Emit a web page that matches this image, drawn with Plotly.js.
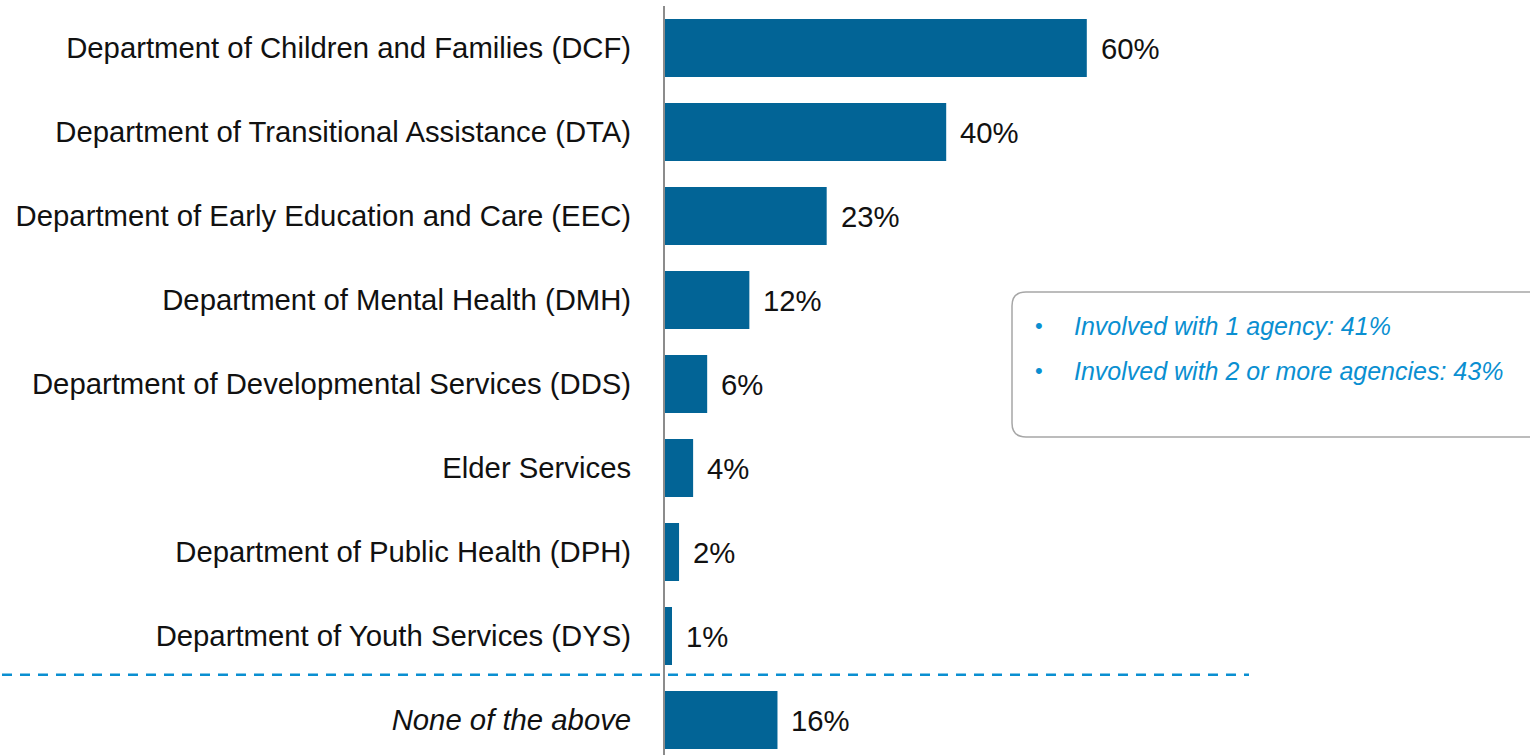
<!DOCTYPE html>
<html>
<head>
<meta charset="utf-8">
<script src="https://cdn.plot.ly/plotly-3.0.1.min.js"></script>
<style>
  html, body { margin: 0; padding: 0; background: #ffffff; }
  #chart { width: 1530px; height: 755px; }
</style>
</head>
<body>
<div id="chart"></div>
<script>
const categories = [
  "Department of Children and Families (DCF)",
  "Department of Transitional Assistance (DTA)",
  "Department of Early Education and Care (EEC)",
  "Department of Mental Health (DMH)",
  "Department of Developmental Services (DDS)",
  "Elder Services",
  "Department of Public Health (DPH)",
  "Department of Youth Services (DYS)",
  "None of the above"
];
const values = [60, 40, 23, 12, 6, 4, 2, 1, 16];
const italicCategories = ["None of the above"];
const noteLines = [
  "Involved with 1 agency: 41%",
  "Involved with 2 or more agencies: 43%"
];

const W = 1530, H = 755;
const L = 665, T = 6;
const plotW = W - L, plotH = H - T;
const pxPerPct = 7.03;
const xMax = plotW / pxPerPct;
const catStep = 84;
const yTop = -0.5;
const yBottom = yTop + plotH / catStep;
const FONT = "Liberation Sans, Arial, sans-serif";

const ids = categories.map((c, i) => i);
const tickText = categories.map(c => italicCategories.includes(c) ? "<i>" + c + "</i>" : c);

const barTrace = {
  type: "bar",
  orientation: "h",
  x: values,
  y: ids,
  marker: { color: "#026496" },
  width: 0.69,
  hoverinfo: "skip"
};

const annotations = values.map((v, i) => ({
  x: v, y: i, xref: "x", yref: "y",
  text: v + "%",
  showarrow: false,
  xanchor: "left",
  xshift: 12,
  font: { family: FONT, size: 29.3, color: "#111111" }
}));

// paper coordinate helpers
const px = v => (v - L) / plotW;
const py = v => (H - v) / plotH;

const bx0 = 1012, bx1 = 1545, by0 = 292, by1 = 437, r = 14;
const boxPath = [
  "M", px(bx0 + r), py(by0),
  "L", px(bx1 - r), py(by0),
  "Q", px(bx1), py(by0), px(bx1), py(by0 + r),
  "L", px(bx1), py(by1 - r),
  "Q", px(bx1), py(by1), px(bx1 - r), py(by1),
  "L", px(bx0 + r), py(by1),
  "Q", px(bx0), py(by1), px(bx0), py(by1 - r),
  "L", px(bx0), py(by0 + r),
  "Q", px(bx0), py(by0), px(bx0 + r), py(by0),
  "Z"
].join(" ");

const noteY = [326, 371];
noteLines.forEach((t, i) => {
  annotations.push({
    x: px(1039), y: py(noteY[i] - 1), xref: "paper", yref: "paper",
    text: "•", showarrow: false, xanchor: "center", yanchor: "middle",
    font: { family: FONT, size: 22, color: "#0a8fd1" }
  });
  annotations.push({
    x: px(1072), y: py(noteY[i]), xref: "paper", yref: "paper",
    text: "<i>" + t + "</i>", showarrow: false, xanchor: "left", yanchor: "middle",
    font: { family: FONT, size: 25, color: "#0a8fd1" }
  });
});

const layout = {
  width: W, height: H,
  margin: { l: L, r: 0, t: T, b: 0, pad: 0 },
  paper_bgcolor: "#ffffff",
  plot_bgcolor: "#ffffff",
  showlegend: false,
  xaxis: {
    range: [0, xMax],
    showgrid: false, zeroline: false, showline: false,
    showticklabels: false, ticks: ""
  },
  yaxis: {
    range: [yBottom, yTop],
    tickmode: "array",
    tickvals: ids,
    ticktext: tickText,
    showgrid: false, zeroline: false,
    showline: true, linecolor: "#8c8c8c", linewidth: 2,
    ticks: "", ticklabelstandoff: 26,
    tickfont: { family: FONT, size: 29.3, color: "#111111" }
  },
  shapes: [
    {
      type: "line", xref: "paper", yref: "y",
      x0: px(2), x1: px(1249), y0: 7.46, y1: 7.46,
      line: { color: "#0a8fd1", width: 2.5, dash: "10px,8px" }
    },
    {
      type: "path", xref: "paper", yref: "paper",
      path: boxPath,
      line: { color: "#a6a6a6", width: 1.5 },
      fillcolor: "rgba(0,0,0,0)"
    }
  ],
  annotations: annotations
};

Plotly.newPlot("chart", [barTrace], layout, { displayModeBar: false, staticPlot: true });
</script>
</body>
</html>
